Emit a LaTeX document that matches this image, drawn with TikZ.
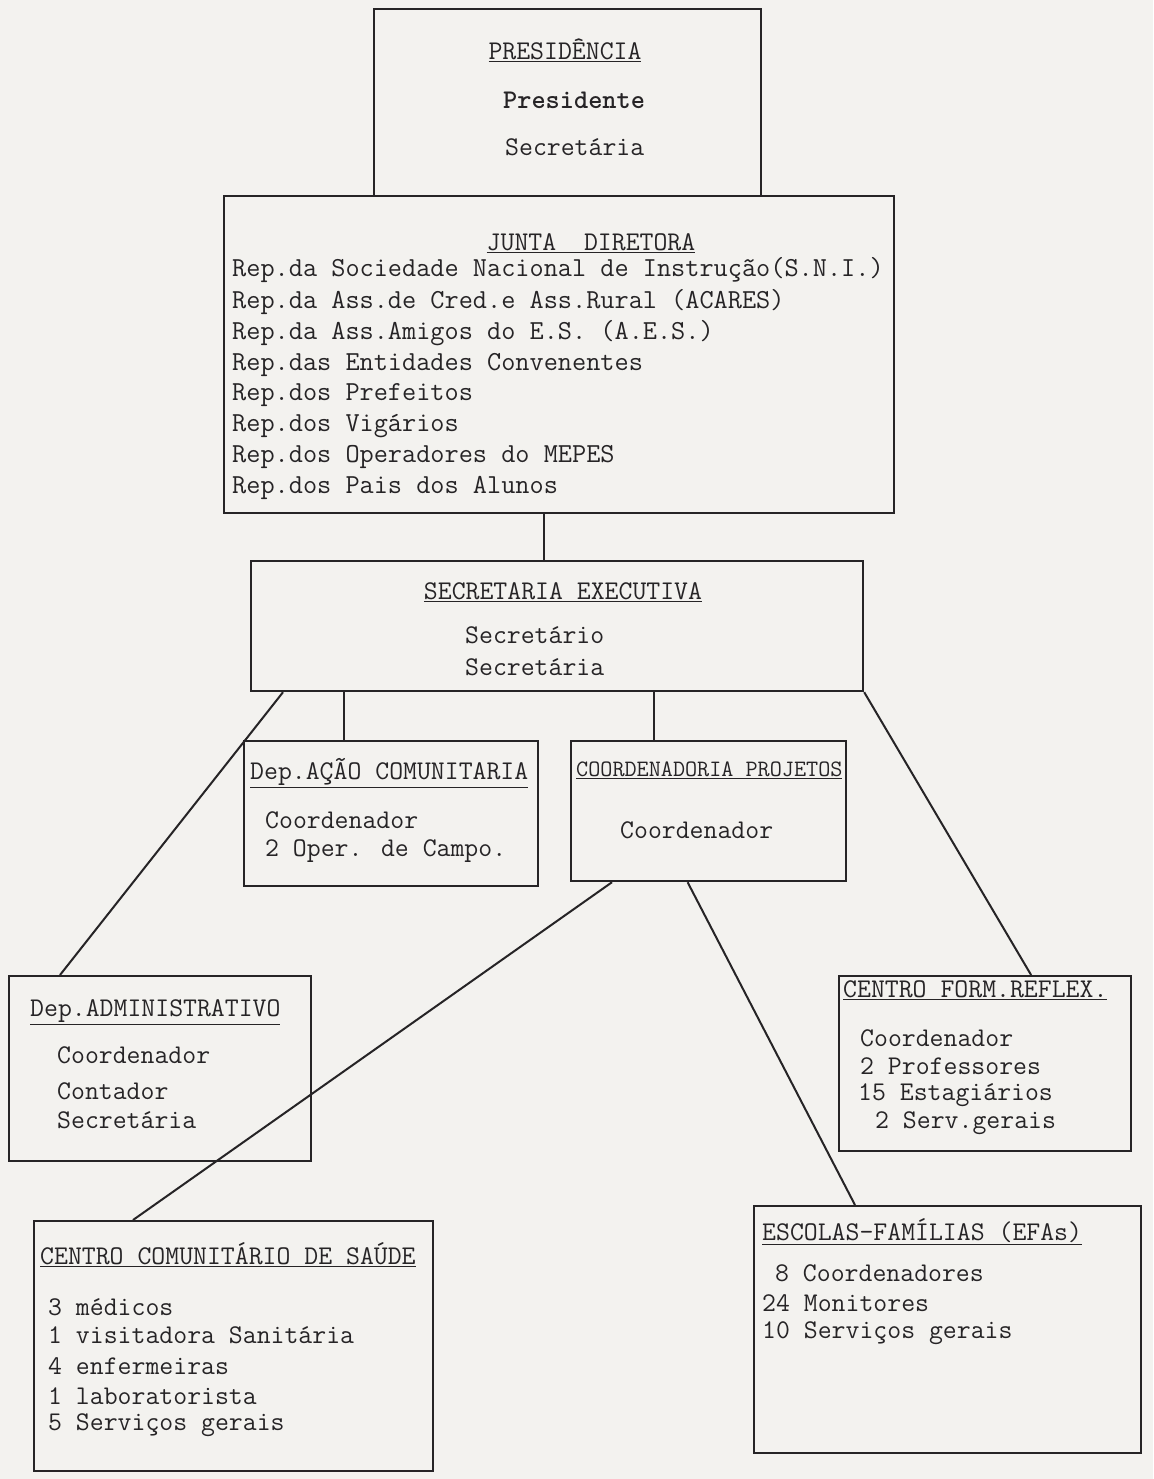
\documentclass[tikz,border=0pt]{standalone}
\usepackage{fontspec}
\definecolor{paper}{RGB}{243,242,239}
\definecolor{ink}{RGB}{38,36,38}
\begin{document}
\begin{tikzpicture}[x=1pt,y=-1pt,
  box/.style={draw=ink,line width=2.2pt,rectangle,inner sep=0pt,anchor=north west},
  txt/.style={text=ink,inner sep=0pt,anchor=west,font=\ttfamily\fontsize{27}{32}\selectfont},
  big/.style={txt,font=\ttfamily\fontsize{27.5}{32}\selectfont},
  ttl/.style={txt},
  link/.style={draw=ink,line width=2pt}]
\fill[paper] (0,0) rectangle (1153,1479);
\useasboundingbox (0,0) rectangle (1153,1479);
% boxes
\node[box,minimum width=387pt,minimum height=187pt] (pres) at (373,8) {};
\node[box,minimum width=670pt,minimum height=317pt] (junta) at (223,195) {};
\node[box,minimum width=612pt,minimum height=130pt] (sec) at (250,560) {};
\node[box,minimum width=294pt,minimum height=145pt] (acao) at (243,740) {};
\node[box,minimum width=275pt,minimum height=140pt] (coord) at (570,740) {};
\node[box,minimum width=302pt,minimum height=185pt] (adm) at (8,975) {};
\node[box,minimum width=292pt,minimum height=175pt] (cfr) at (838,975) {};
\node[box,minimum width=399pt,minimum height=250pt] (ccs) at (33,1220) {};
\node[box,minimum width=387pt,minimum height=247pt] (efa) at (753,1205) {};
% connectors
\draw[link] ([xshift=-15pt]junta.south) -- ([xshift=-15pt]junta.south |- sec.north);
\draw[link] ([xshift=-47pt]acao.north) -- ([xshift=-47pt]acao.north |- sec.south);
\draw[link] ([xshift=-55pt]coord.north) -- ([xshift=-55pt]coord.north |- sec.south);
\draw[link] ([xshift=33pt]sec.south west) -- ([xshift=52pt]adm.north west);
\draw[link] (sec.south east) -- ([xshift=46pt]cfr.north);
\draw[link] ([xshift=42pt]coord.south west) -- ([xshift=100pt]ccs.north west);
\draw[link] ([xshift=-21pt]coord.south) -- ([xshift=102pt]efa.north west);
% Presidencia
\node[ttl,anchor=center] (presT) at (565,50) {\underline{PRESIDÊNCIA}};
\node[txt] (presA) at (503,100) {\bfseries Presidente};
\node[txt] (presB) at (505,147) {Secretária};
% Junta
\node[ttl,anchor=center] (juntaT) at (591,243) {\underline{JUNTA\ \ DIRETORA}};
\node[big] (j1) at (232,270) {Rep.da Sociedade Nacional de Instrução(S.N.I.)};
\node[big] (j2) at (232,302) {Rep.da Ass.de Cred.e Ass.Rural (ACARES)};
\node[big] (j3) at (232,333) {Rep.da Ass.Amigos do E.S. (A.E.S.)};
\node[big] (j4) at (232,365) {Rep.das Entidades Convenentes};
\node[big] (j5) at (232,395) {Rep.dos Prefeitos};
\node[big] (j6) at (232,426) {Rep.dos Vigários};
\node[big] (j7) at (232,457) {Rep.dos Operadores do MEPES};
\node[big] (j8) at (232,488) {Rep.dos Pais dos Alunos};
% Secretaria executiva
\node[ttl,anchor=center] (secT) at (563,592) {\underline{SECRETARIA EXECUTIVA}};
\node[txt] (s1) at (465,635) {Secretário};
\node[txt] (s2) at (465,667) {Secretária};
% Acao comunitaria
\node[ttl] (acaoT) at (250,773) {\underline{Dep.AÇÃO COMUNITARIA}};
\node[txt] (a1) at (265,820) {Coordenador};
\node[txt] (a2) at (265,851) {2 Oper. de Campo.};
% Coordenadoria
\node[ttl,font=\ttfamily\fontsize{23.5}{28}\selectfont] (coordT) at (576,770) {\underline{COORDENADORIA PROJETOS}};
\node[txt] (c1) at (620,830) {Coordenador};
% Administrativo
\node[ttl] (admT) at (30,1012) {\underline{Dep.ADMINISTRATIVO}};
\node[txt] (d1) at (57,1055) {Coordenador};
\node[txt] (d2) at (57,1091) {Contador};
\node[txt] (d3) at (57,1120) {Secretária};
% Centro form reflex
\node[ttl] (cfrT) at (843,990) {\underline{CENTRO FORM.REFLEX.}};
\node[txt] (f1) at (860,1038) {Coordenador};
\node[txt] (f2) at (860,1066) {2 Professores};
\node[txt] (f3) at (858,1095) {15 Estagiários};
\node[txt] (f4) at (875,1123) {2 Serv.gerais};
% Centro comunitario
\node[ttl] (ccsT) at (40,1255) {\underline{CENTRO COMUNITÁRIO DE SAÚDE}};
\node[txt] (h1) at (48,1307) {3 médicos};
\node[txt] (h2) at (48,1335) {1 visitadora Sanitária};
\node[txt] (h3) at (48,1366) {4 enfermeiras};
\node[txt] (h4) at (48,1396) {1 laboratorista};
\node[txt] (h5) at (48,1425) {5 Serviços gerais};
% Escolas familias
\node[ttl] (efaT) at (762,1232) {\underline{ESCOLAS-FAMÍLIAS (EFAs)}};
\node[txt] (e1) at (775,1273) {8 Coordenadores};
\node[txt] (e2) at (762,1303) {24 Monitores};
\node[txt] (e3) at (762,1333) {10 Serviços gerais};
\end{tikzpicture}
\end{document}
